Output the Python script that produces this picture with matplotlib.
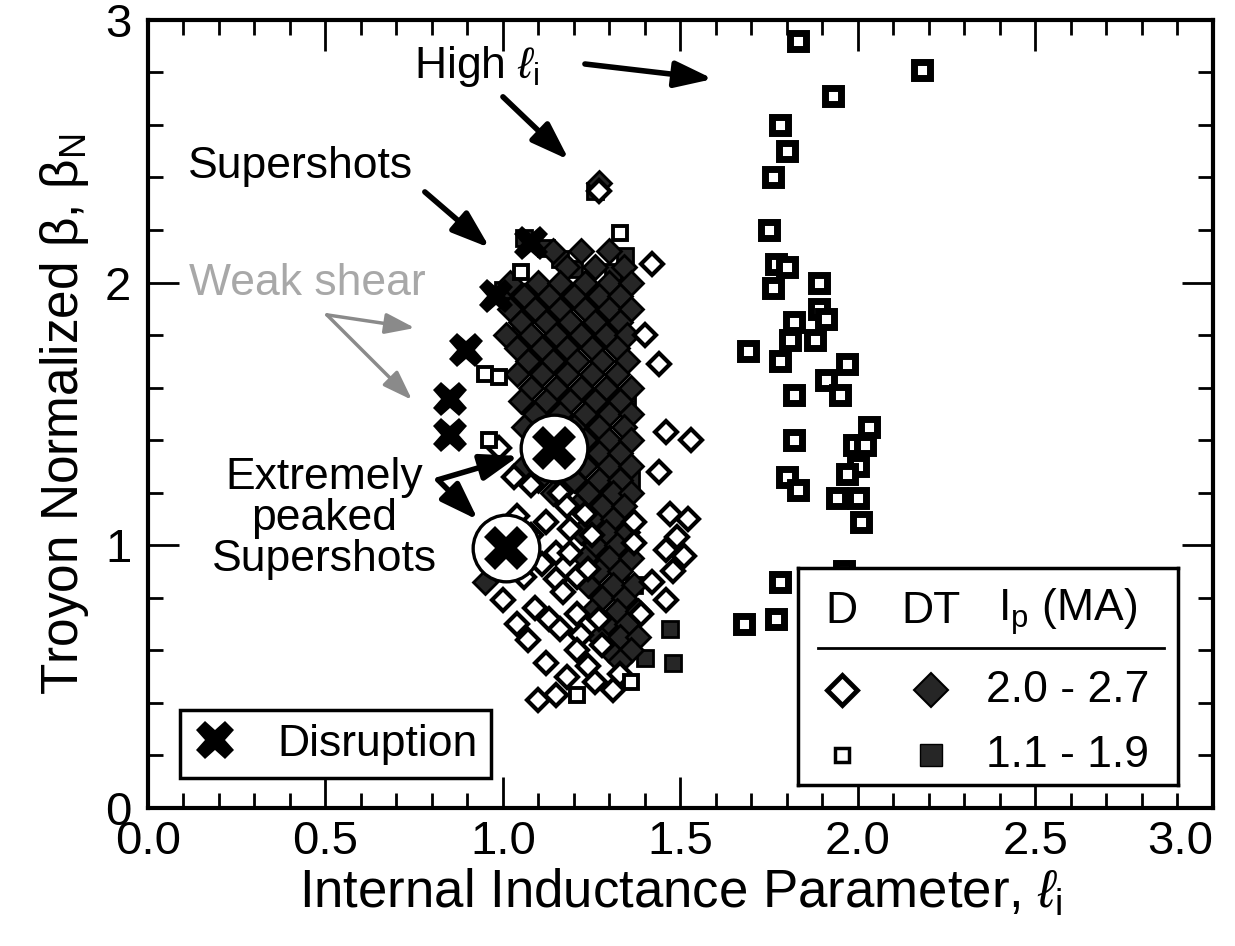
import matplotlib.pyplot as plt
from matplotlib.lines import Line2D
from matplotlib.ticker import MultipleLocator, FormatStrFormatter

plt.rcParams['font.family'] = ['Liberation Sans', 'DejaVu Sans']
plt.rcParams['mathtext.fontset'] = 'custom'
plt.rcParams['mathtext.rm'] = 'Liberation Sans'
plt.rcParams['mathtext.it'] = 'Liberation Sans:italic'
plt.rcParams['mathtext.bf'] = 'Liberation Sans:bold'

# D, 2.0 - 2.7 MA (open diamonds)
d_diamonds = [
    (1.42, 2.07), (1.40, 1.80), (1.44, 1.69), (1.46, 1.43), (1.53, 1.40),
    (1.44, 1.28), (1.47, 1.12), (1.52, 1.10), (1.49, 1.03), (1.46, 0.98),
    (1.51, 0.96), (1.48, 0.90), (1.42, 0.86), (1.46, 0.79), (1.39, 0.74),
    (1.37, 1.09), (1.37, 1.01), (0.99, 1.37), (1.03, 1.26), (1.08, 1.23),
    (1.16, 1.20), (1.04, 1.11), (1.12, 1.09), (1.18, 1.15), (1.23, 1.12),
    (1.19, 1.06), (1.25, 1.04), (1.15, 0.97), (1.19, 0.97), (1.08, 1.04),
    (1.11, 0.93), (1.15, 0.87), (1.21, 0.88), (1.24, 0.91), (1.06, 0.88),
    (1.17, 0.82), (1.00, 0.79), (1.09, 0.76), (1.21, 0.74), (1.13, 0.72),
    (1.27, 0.72), (1.04, 0.70), (1.16, 0.68), (1.07, 0.64), (1.22, 0.66),
    (1.28, 0.62), (1.21, 0.60), (1.12, 0.55), (1.24, 0.54), (1.33, 0.51),
    (1.18, 0.50), (1.26, 0.48), (1.31, 0.45), (1.10, 0.41), (1.15, 0.43),
    (1.27, 2.35),
]

# DT, 2.0 - 2.7 MA (filled diamonds)
dt_diamonds = [
    (1.27, 2.38), (1.12, 1.93), (0.95, 0.86),
    (1.14, 2.12), (1.22, 2.12), (1.30, 2.12),
    (1.18, 2.06), (1.26, 2.06), (1.34, 2.06),
    (1.02, 2.00), (1.10, 2.00), (1.16, 2.00), (1.23, 2.00), (1.30, 2.00), (1.36, 2.00),
    (1.06, 1.95), (1.13, 1.95), (1.20, 1.95), (1.27, 1.95), (1.33, 1.95),
    (1.02, 1.90), (1.09, 1.90), (1.16, 1.90), (1.23, 1.90), (1.30, 1.90), (1.36, 1.90),
    (1.05, 1.85), (1.12, 1.85), (1.19, 1.85), (1.26, 1.85), (1.33, 1.85),
    (1.01, 1.80), (1.08, 1.80), (1.15, 1.80), (1.22, 1.80), (1.29, 1.80), (1.35, 1.80),
    (1.04, 1.75), (1.11, 1.75), (1.18, 1.75), (1.25, 1.75), (1.32, 1.75),
    (1.07, 1.70), (1.14, 1.70), (1.21, 1.70), (1.28, 1.70), (1.35, 1.70),
    (1.04, 1.65), (1.11, 1.65), (1.18, 1.65), (1.25, 1.65), (1.32, 1.65),
    (1.08, 1.60), (1.15, 1.60), (1.22, 1.60), (1.29, 1.60), (1.36, 1.60),
    (1.05, 1.55), (1.12, 1.55), (1.19, 1.55), (1.26, 1.55), (1.33, 1.55),
    (1.09, 1.50), (1.16, 1.50), (1.23, 1.50), (1.30, 1.50), (1.36, 1.50),
    (1.06, 1.45), (1.20, 1.45), (1.27, 1.45), (1.34, 1.45),
    (1.23, 1.40), (1.30, 1.40), (1.36, 1.40),
    (1.20, 1.35), (1.27, 1.35), (1.33, 1.35),
    (1.06, 1.30), (1.23, 1.30), (1.30, 1.30), (1.36, 1.30),
    (1.10, 1.25), (1.20, 1.25), (1.27, 1.25), (1.33, 1.25),
    (1.14, 1.20), (1.24, 1.20), (1.31, 1.20), (1.36, 1.20),
    (1.21, 1.15), (1.28, 1.15), (1.34, 1.15),
    (1.25, 1.10), (1.31, 1.10),
    (1.22, 1.05), (1.29, 1.05), (1.35, 1.05),
    (1.26, 1.00), (1.32, 1.00),
    (1.23, 0.95), (1.30, 0.95), (1.36, 0.95),
    (1.27, 0.90), (1.33, 0.90),
    (1.24, 0.85), (1.31, 0.85), (1.37, 0.85),
    (1.28, 0.80), (1.34, 0.80),
    (1.25, 0.75), (1.32, 0.75), (1.38, 0.75),
    (1.29, 0.70), (1.35, 0.70),
    (1.27, 0.65), (1.33, 0.65), (1.38, 0.65),
    (1.30, 0.60), (1.36, 0.60),
    (1.33, 0.56),
]

# D, 1.1 - 1.9 MA (open squares)
d_squares = [
    (1.33, 2.19), (1.05, 2.04), (0.95, 1.65), (0.99, 1.64), (0.96, 1.40),
    (1.21, 0.43), (1.36, 0.48),
]

# DT, 1.1 - 1.9 MA (filled squares)
dt_squares = [
    (1.26, 2.35), (1.12, 2.13), (1.06, 2.17), (1.16, 2.09), (1.20, 2.05),
    (1.345, 2.10), (1.31, 2.04), (1.00, 1.97), (1.05, 1.81), (1.35, 1.55),
    (1.36, 1.25), (1.47, 0.68), (1.48, 0.55), (1.40, 0.57), (1.37, 0.85),
]

# high internal inductance discharges (open squares)
high_li = [
    (1.83, 2.92), (2.18, 2.81), (1.93, 2.71), (1.78, 2.60), (1.80, 2.50),
    (1.76, 2.40), (1.75, 2.20), (1.77, 2.07), (1.80, 2.06), (1.76, 1.98),
    (1.89, 2.00), (1.89, 1.90), (1.91, 1.86), (1.82, 1.85), (1.81, 1.78),
    (1.88, 1.78), (1.69, 1.74), (1.78, 1.70), (1.97, 1.69), (1.91, 1.63),
    (1.95, 1.57), (1.82, 1.57), (2.03, 1.45), (1.99, 1.38), (2.02, 1.38),
    (2.00, 1.30), (1.97, 1.27), (1.82, 1.40), (1.80, 1.26), (1.83, 1.21),
    (1.94, 1.18), (2.00, 1.18), (2.01, 1.09), (1.78, 0.86), (1.77, 0.72),
    (1.68, 0.70), (1.96, 0.90),
]

disruptions = [(0.85, 1.555), (0.85, 1.42), (0.895, 1.745), (0.98, 1.95), (1.08, 2.15)]
peaked = [(1.145, 1.37), (1.008, 0.99)]

current_ranges = ['2.0 - 2.7', '1.1 - 1.9']


def xy(pts):
    return [p[0] for p in pts], [p[1] for p in pts]


fig = plt.figure(figsize=(12.35, 9.46), dpi=100)
ax = fig.add_axes([0.1198, 0.146, 0.8623, 0.833])

dark = '#262626'
ax.plot(*xy(dt_squares), ls='none', marker='s', ms=11, mfc=dark, mec='k', mew=2)
ax.plot(*xy(dt_diamonds), ls='none', marker='D', ms=12, mfc=dark, mec='k', mew=2)
ax.plot(*xy(d_diamonds), ls='none', marker='D', ms=11.5, mfc='white', mec='k', mew=3)
ax.plot(*xy(d_squares), ls='none', marker='s', ms=10.5, mfc='white', mec='k', mew=2.8)
ax.plot(*xy(high_li), ls='none', marker='s', ms=12, mfc='white', mec='k', mew=5)
ax.plot(*xy(disruptions), ls='none', marker='X', ms=25, color='k', mew=0)
ax.plot(*xy(peaked), ls='none', marker='o', ms=48, mfc='white', mec='k', mew=2.4)
ax.plot(*xy(peaked), ls='none', marker='X', ms=31, color='k', mew=0)

ax.set_xlim(0, 3)
ax.set_ylim(0, 3)
ax.xaxis.set_major_locator(MultipleLocator(0.5))
ax.xaxis.set_minor_locator(MultipleLocator(0.1))
ax.yaxis.set_major_locator(MultipleLocator(1))
ax.yaxis.set_minor_locator(MultipleLocator(0.2))
ax.xaxis.set_major_formatter(FormatStrFormatter('%.1f'))
ax.yaxis.set_major_formatter(FormatStrFormatter('%d'))
ax.tick_params(which='both', direction='in', top=True, right=True, width=2, labelsize=34)
ax.tick_params(which='major', length=22)
ax.tick_params(axis='x', which='major', pad=9)
ax.tick_params(axis='y', which='major', pad=12)
ax.tick_params(which='minor', length=11)
for s in ax.spines.values():
    s.set_linewidth(3)

ax.set_xlabel('Internal Inductance Parameter, $\\ell_\\mathrm{i}$', fontsize=38, labelpad=2)
ax.set_ylabel('Troyon Normalized β, β$_\\mathrm{N}$', fontsize=37, labelpad=10)

arrow = dict(arrowstyle='-|>,head_length=1.15,head_width=0.4', lw=4, color='k',
             shrinkA=0, shrinkB=0, mutation_scale=20)
gray_arrow = dict(arrowstyle='-|>,head_length=1.0,head_width=0.35', lw=2.5, color='#8a8a8a',
                  shrinkA=0, shrinkB=0, mutation_scale=18)

ax.text(0.926, 2.779, 'High $\\ell_\\mathrm{i}$', fontsize=32, ha='center', va='baseline')
ax.annotate('', xy=(1.186, 2.467), xytext=(1.0, 2.707), arrowprops=arrow)
ax.annotate('', xy=(1.592, 2.775), xytext=(1.231, 2.832), arrowprops=arrow)

ax.text(0.431, 2.398, 'Supershots', fontsize=32, ha='center', va='baseline')
ax.annotate('', xy=(0.963, 2.132), xytext=(0.780, 2.345), arrowprops=arrow)

ax.text(0.448, 1.953, 'Weak shear', fontsize=32, ha='center', va='baseline', color='#a8a8a8')
ax.annotate('', xy=(0.752, 1.827), xytext=(0.504, 1.877), arrowprops=gray_arrow)
ax.annotate('', xy=(0.744, 1.553), xytext=(0.504, 1.877), arrowprops=gray_arrow)

ax.text(0.496, 1.10, 'Extremely\npeaked\nSupershots', fontsize=32, ha='center', va='center',
        linespacing=1.0)
ax.annotate('', xy=(1.045, 1.34), xytext=(0.817, 1.249), arrowprops=arrow)
ax.annotate('', xy=(0.93, 1.096), xytext=(0.817, 1.249), arrowprops=arrow)

# disruption legend
xh = Line2D([], [], ls='none', marker='X', ms=28, color='k', mew=0)
leg = ax.legend([xh], ['Disruption'], loc='lower left', bbox_to_anchor=(0.030, 0.038),
                borderaxespad=0, fontsize=32, frameon=True, fancybox=False,
                edgecolor='k', framealpha=1, handlelength=1.0, handletextpad=0.9,
                borderpad=0.3)
leg.get_frame().set_linewidth(2.5)

# current / species legend box
lg = ax.inset_axes([0.610, 0.029, 0.357, 0.275])
lg.set_xlim(0, 1)
lg.set_ylim(0, 1)
lg.set_xticks([])
lg.set_yticks([])
for s in lg.spines.values():
    s.set_linewidth(2.5)
lg.text(0.116, 0.80, 'D', fontsize=32, ha='center', va='center')
lg.text(0.35, 0.80, 'DT', fontsize=32, ha='center', va='center')
lg.text(0.71, 0.80, 'I$_\\mathrm{p}$ (MA)', fontsize=32, ha='center', va='center')
lg.plot([0.053, 0.963], [0.631, 0.631], color='k', lw=2)
lg.plot([0.116], [0.438], marker='D', ms=15, mfc='white', mec='k', mew=3.5)
lg.plot([0.35], [0.438], marker='D', ms=17, mfc=dark, mec='k', mew=1.5)
lg.plot([0.116], [0.138], marker='s', ms=10, mfc='white', mec='k', mew=2.5)
lg.plot([0.35], [0.138], marker='s', ms=16, mfc=dark, mec='k', mew=1)
lg.text(0.71, 0.438, current_ranges[0], fontsize=32, ha='center', va='center')
lg.text(0.71, 0.138, current_ranges[1], fontsize=32, ha='center', va='center')

# keep the last x tick label inside the figure, as in the original
fig.canvas.draw()
for t in ax.xaxis.get_major_ticks():
    if abs(t.get_loc() - 3.0) < 1e-6:
        t.label1.set_horizontalalignment('right')

fig.savefig('out.png', dpi=100)
